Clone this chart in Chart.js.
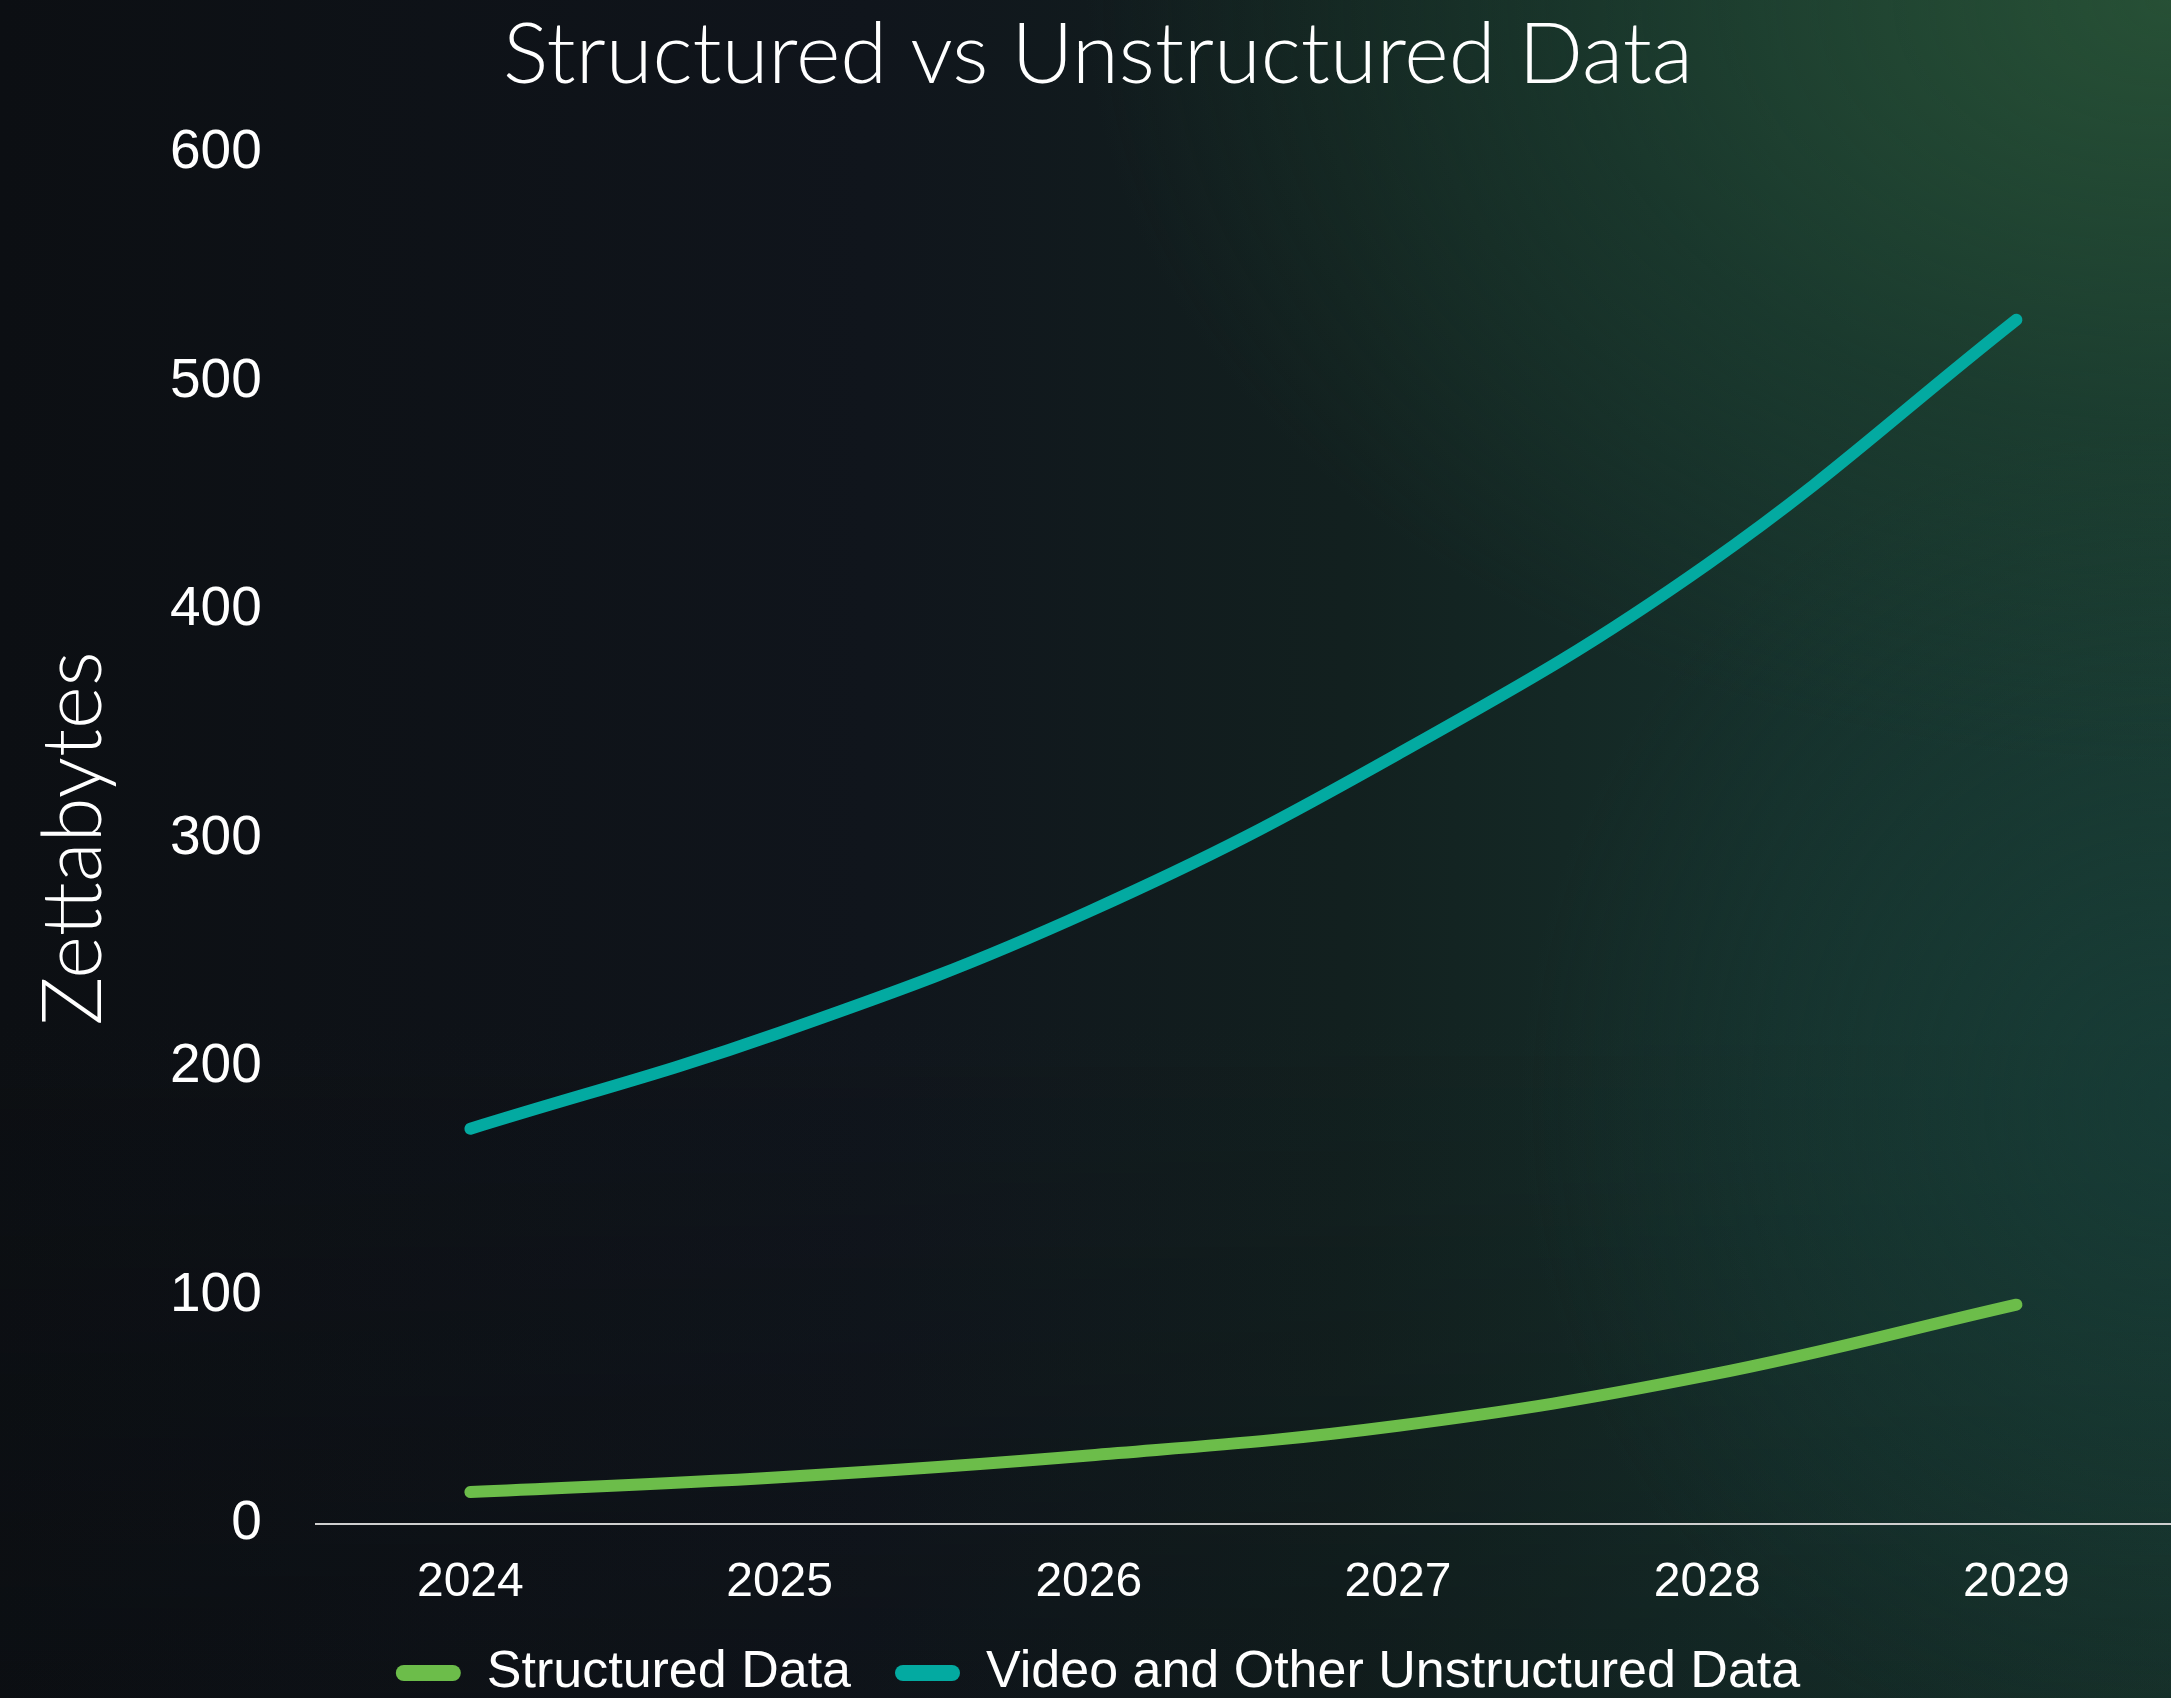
<!DOCTYPE html>
<html>
<head>
<meta charset="utf-8">
<script src="https://cdn.jsdelivr.net/npm/chart.js@4"></script>
<style>
  html, body { margin: 0; padding: 0; overflow: hidden; }
  body {
    width: 2171px; height: 1698px;
    background:
      radial-gradient(ellipse 50% 45% at 100% 0%, rgba(40,82,54,0.9) 0%, rgba(30,66,48,0.5) 55%, rgba(0,0,0,0) 100%),
      radial-gradient(ellipse 30% 40% at 100% 65%, rgba(22,60,56,0.7) 0%, rgba(0,0,0,0) 100%),
      linear-gradient(180deg, rgba(0,0,0,0) 0%, rgba(0,0,0,0) 60%, rgba(10,14,18,0.25) 100%),
      linear-gradient(90deg, #0c0f13 0%, #10151c 40%, #12201f 62%, #16302b 82%, #1a3a30 100%);
  }
  #wrap { position: absolute; left: 0; top: 0; }
</style>
</head>
<body>
<div id="wrap"><canvas id="chart" width="2171" height="1709"></canvas></div>
<script>
const years = ['2024', '2025', '2026', '2027', '2028', '2029'];
const structured = [14, 20.5, 30, 43, 65, 96];
const unstructured = [173, 215, 268, 337, 420, 527];

const labelFont = 'Arial, "Liberation Sans", sans-serif';
const thinFont = 'Lato, "Open Sans", sans-serif';

const config = {
  type: 'line',
  data: {
    labels: years,
    datasets: [{
      label: 'Structured Data',
      data: structured,
      borderColor: '#6cbd4a',
      backgroundColor: '#6cbd4a'
    }, {
      label: 'Video and Other Unstructured Data',
      data: unstructured,
      borderColor: '#03aaa1',
      backgroundColor: '#03aaa1'
    }]
  },
  options: {
    responsive: false,
    devicePixelRatio: 1,
    animation: false,
    layout: { padding: { left: 25, right: 0, top: 0, bottom: 0 } },
    elements: {
      line: { borderWidth: 12, tension: 0.4, borderCapStyle: 'round', borderJoinStyle: 'round' },
      point: { radius: 0, hoverRadius: 0 }
    },
    plugins: {
      title: {
        display: true,
        text: 'Structured vs Unstructured Data',
        color: '#ffffff',
        font: { family: thinFont, size: 85, weight: 300 },
        padding: { top: 5, bottom: 46 }
      },
      legend: {
        position: 'bottom',
        labels: {
          color: '#ffffff',
          font: { family: labelFont, size: 52 },
          boxWidth: 65,
          boxHeight: 16,
          useBorderRadius: true,
          borderRadius: 8,
          padding: 44,
          // no outline on the legend pills, just the fill
          generateLabels: (c) => Chart.defaults.plugins.legend.labels.generateLabels(c)
            .map(item => Object.assign(item, { lineWidth: 0 }))
        }
      },
      tooltip: { enabled: false }
    },
    scales: {
      x: {
        offset: true,
        grid: { display: false, drawTicks: false },
        border: { display: true, color: '#cfcfcf', width: 2 },
        ticks: { color: '#ffffff', font: { family: labelFont, size: 48, lineHeight: 0.8 }, padding: 40 },
        afterFit: (scale) => { scale.height = 79; }
      },
      y: {
        min: 0,
        max: 600,
        grid: { display: false, drawTicks: false },
        border: { display: false },
        ticks: { stepSize: 100, color: '#ffffff', font: { family: labelFont, size: 55 }, padding: 54 },
        title: {
          display: true,
          text: 'Zettabytes',
          color: '#ffffff',
          font: { family: thinFont, size: 82, weight: 300, lineHeight: 1.0 },
          padding: { top: 9, bottom: 0 }
        }
      }
    }
  }
};

const chart = new Chart(document.getElementById('chart'), config);
</script>
</body>
</html>
